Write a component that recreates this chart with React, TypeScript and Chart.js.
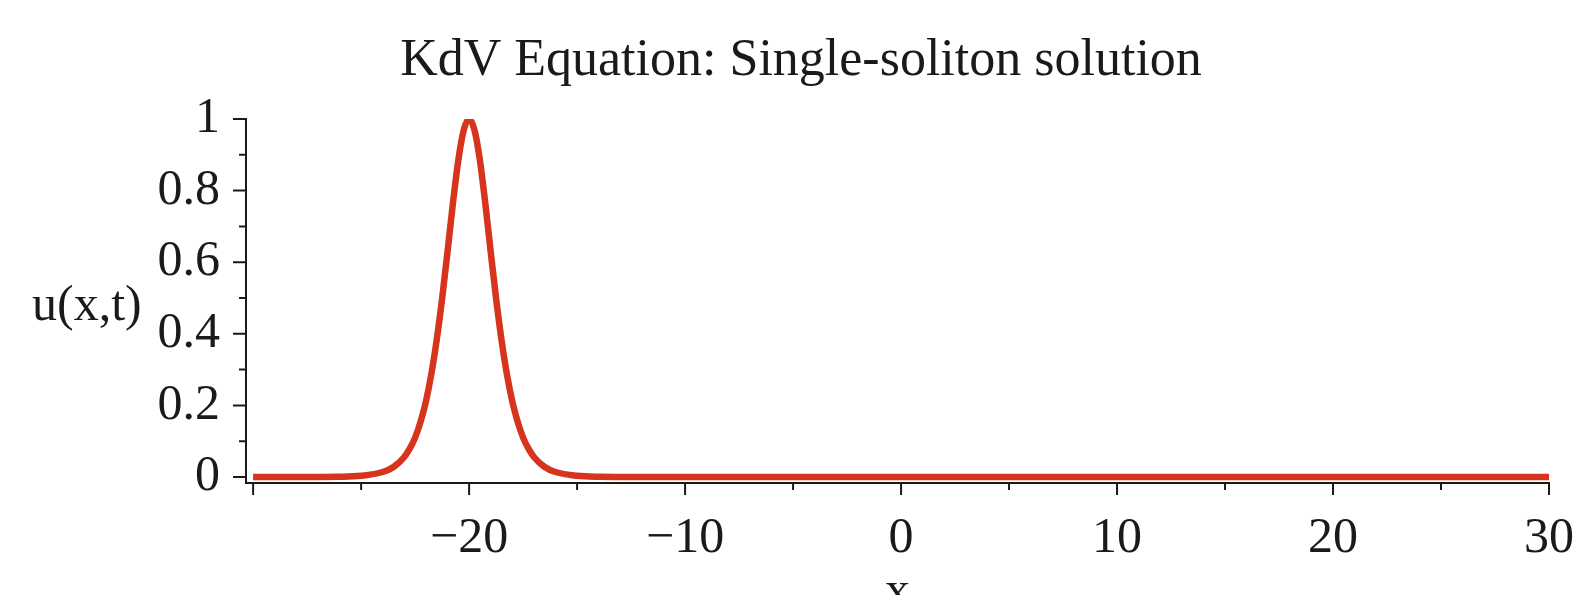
import React, { useEffect, useRef } from "react";
import { Chart, registerables } from "chart.js";

Chart.register(...registerables);

const titleText = "KdV Equation: Single-soliton solution";
const yAxisTitle = "u(x,t)";
const xAxisTitle = "x";

const xValues = [
  -30, -28, -26, -25, -24, -23.5, -23, -22.75, -22.5, -22.25, -22, -21.75, -21.5, -21.25, -21,
  -20.75, -20.5, -20.25, -20, -19.75, -19.5, -19.25, -19, -18.75, -18.5, -18.25, -18, -17.75,
  -17.5, -17.25, -17, -16.5, -16, -15, -14, -12, -10, 0, 10, 20, 30,
];
const uValues = [
  0, 0.00005, 0.0008, 0.0034, 0.014, 0.028, 0.056, 0.079, 0.11, 0.154, 0.211, 0.287, 0.383,
  0.498, 0.629, 0.764, 0.885, 0.969, 1, 0.969, 0.885, 0.764, 0.629, 0.498, 0.383, 0.287, 0.211,
  0.154, 0.11, 0.079, 0.056, 0.028, 0.014, 0.0034, 0.0008, 0.00005, 0, 0, 0, 0, 0,
];

const xMajorTicks = [-30, -20, -10, 0, 10, 20, 30];
const xMajorLabels = ["", "\u221220", "\u221210", "0", "10", "20", "30"];
const xMinorTicks = [-25, -15, -5, 5, 15, 25];
const yMajorTicks = [0, 0.2, 0.4, 0.6, 0.8, 1];
const yMajorLabels = ["0", "0.2", "0.4", "0.6", "0.8", "1"];
const yMinorTicks = [0.1, 0.3, 0.5, 0.7, 0.9];

const FONT = '"Liberation Serif", "Times New Roman", serif';
const INK = "#1a1a1a";

const tickMarks = {
  id: "tickMarks",
  afterDraw(chart: any) {
    const ctx = chart.ctx;
    const xs = chart.scales.x;
    const ys = chart.scales.y;
    const area = chart.chartArea;
    ctx.save();
    ctx.strokeStyle = INK;
    ctx.lineWidth = 2;
    ctx.beginPath();
    xMajorTicks.forEach((v) => {
      const p = xs.getPixelForValue(v);
      ctx.moveTo(p, area.bottom);
      ctx.lineTo(p, area.bottom + 12);
    });
    xMinorTicks.forEach((v) => {
      const p = xs.getPixelForValue(v);
      ctx.moveTo(p, area.bottom);
      ctx.lineTo(p, area.bottom + 7);
    });
    yMajorTicks.forEach((v) => {
      const p = ys.getPixelForValue(v);
      ctx.moveTo(area.left, p);
      ctx.lineTo(area.left - 13, p);
    });
    yMinorTicks.forEach((v) => {
      const p = ys.getPixelForValue(v);
      ctx.moveTo(area.left, p);
      ctx.lineTo(area.left - 7, p);
    });
    ctx.stroke();

    ctx.fillStyle = INK;
    ctx.textBaseline = "alphabetic";
    ctx.font = `52px ${FONT}`;
    ctx.textAlign = "center";
    ctx.fillText(titleText, 801, 75);
    ctx.font = `50px ${FONT}`;
    ctx.textAlign = "left";
    ctx.fillText(yAxisTitle, 32, 320);
    ctx.textAlign = "center";
    ctx.fillText(xAxisTitle, (area.left + area.right) / 2, 606);
    ctx.restore();
  },
};

export default function App() {
  const ref = useRef<HTMLCanvasElement | null>(null);
  useEffect(() => {
    if (!ref.current) return;
    const chart = new Chart(ref.current, {
      type: "line",
      data: {
        datasets: [
          {
            data: xValues.map((x, i) => ({ x, y: uValues[i] })),
            borderColor: "rgb(214, 52, 28)",
            borderWidth: 6.5,
            pointRadius: 0,
            cubicInterpolationMode: "monotone",
            fill: false,
          },
        ],
      },
      options: {
        animation: false,
        responsive: false,
        maintainAspectRatio: false,
        layout: { padding: { top: 119, right: 24, bottom: 0, left: 0 } },
        plugins: {
          legend: { display: false },
          tooltip: { enabled: false },
          title: { display: false },
        },
        scales: {
          x: {
            type: "linear",
            min: -30.33,
            max: 30,
            grid: { display: false },
            border: { display: true, color: INK, width: 2 },
            afterBuildTicks: (s: any) => {
              s.ticks = xMajorTicks.map((v) => ({ value: v }));
            },
            afterFit: (s: any) => {
              s.height = 112;
              s.paddingLeft = 0;
              s.paddingRight = 0;
            },
            ticks: {
              color: INK,
              padding: 18,
              maxRotation: 0,
              autoSkip: false,
              font: { family: FONT, size: 50 },
              callback: (v: any) => {
                const i = xMajorTicks.indexOf(Number(v));
                return i >= 0 ? xMajorLabels[i] : "";
              },
            },
          },
          y: {
            type: "linear",
            min: -0.0168,
            max: 1,
            grid: { display: false },
            border: { display: true, color: INK, width: 2 },
            afterBuildTicks: (s: any) => {
              s.ticks = yMajorTicks.map((v) => ({ value: v }));
            },
            afterFit: (s: any) => {
              s.width = 246;
              s.paddingTop = 0;
              s.paddingBottom = 0;
            },
            ticks: {
              color: INK,
              padding: 18,
              autoSkip: false,
              font: { family: FONT, size: 50 },
              callback: (v: any) => {
                const i = yMajorTicks.findIndex((t) => Math.abs(t - Number(v)) < 1e-9);
                return i >= 0 ? yMajorLabels[i] : "";
              },
            },
          },
        },
      },
      plugins: [tickMarks],
    } as any);
    return () => chart.destroy();
  }, []);
  return (
    <div style={{ position: "absolute", left: 0, top: 0, width: 1573, height: 595, background: "#fff" }}>
      <canvas ref={ref} width={1573} height={595} style={{ display: "block" }} />
    </div>
  );
}
